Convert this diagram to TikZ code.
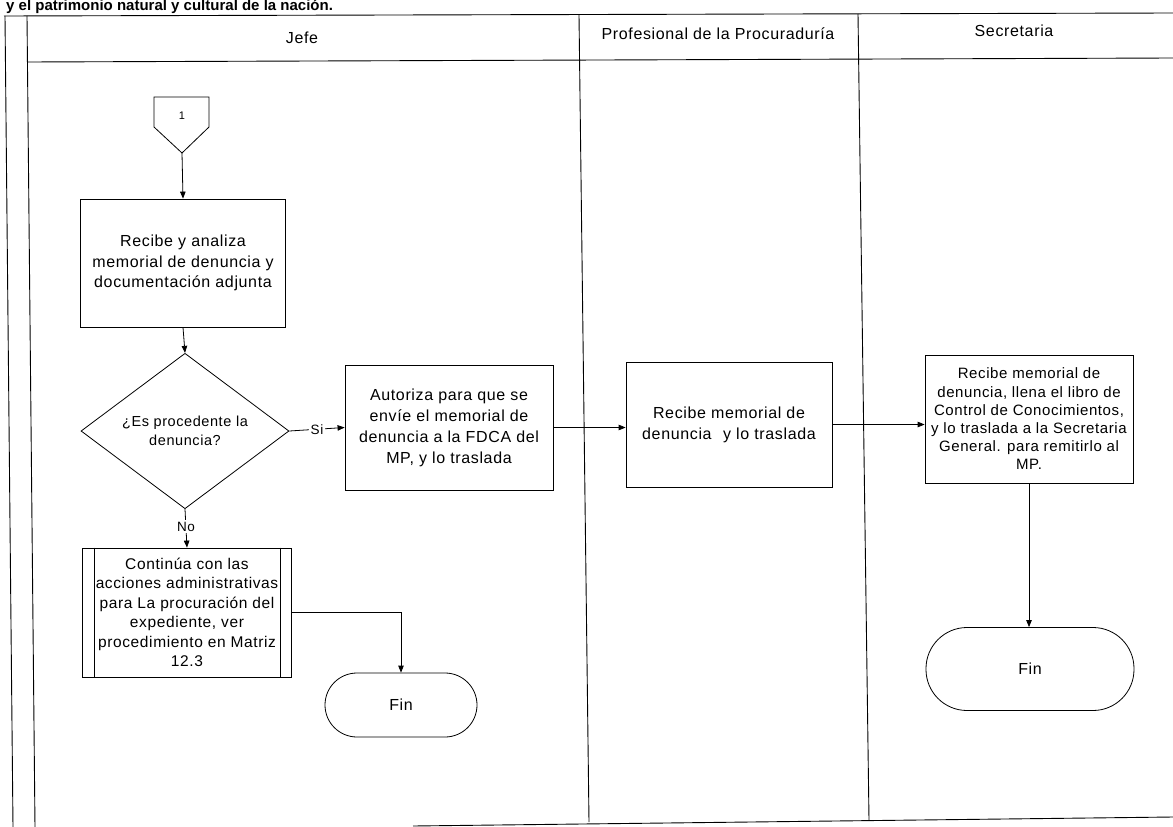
\documentclass[tikz,border=0pt]{standalone}
\usepackage{fontspec}
\setmainfont{Liberation Sans}[LetterSpace=4]
\newfontfamily\plainfont{Liberation Sans}
\usetikzlibrary{arrows.meta,shapes.geometric}

\newcommand{\fsz}[2]{\fontsize{#1}{#2}\selectfont}

\tikzset{
  rule/.style={line width=0.9pt},
  box/.style={draw, line width=0.8pt, align=center, inner sep=2pt},
  decision/.style={draw, diamond, line width=0.8pt, align=center, inner sep=0pt},
  terminal/.style={draw, rectangle, line width=0.8pt, align=center},
  flow/.style={line width=0.8pt, -{Triangle[length=7pt,width=5.5pt]}},
  lbl/.style={fill=white, inner sep=1.5pt, font=\fsz{13.5}{15}},
  lanehead/.style={font=\fsz{16}{19}},
}

\begin{document}
\begin{tikzpicture}[x=1pt,y=-1pt]
\useasboundingbox (0,0) rectangle (1173,827);

% heading line of the page, cut by the page edge
\node[anchor=base west, inner sep=0pt, font=\plainfont\bfseries\fsz{15}{17}] (title) at (6,10.5)
  {y el patrimonio natural y cultural de la nación.};

% swimlane table
\draw[rule] (4,16) -- (1173,13);
\draw[rule] (5,16) -- (13,827);
\draw[rule] (27,16) -- (35,827);
\draw[rule] (27,62) -- (1173,58);
\draw[rule] (579,15) -- (589,822);
\draw[rule] (858,14) -- (869,820);
\draw[rule] (413,826) -- (1173,817);

\node[lanehead] (hJefe) at (302,38) {Jefe};
\node[lanehead] (hProf) at (718,34) {Profesional de la Procuraduría};
\node[lanehead] (hSec) at (1014,31) {Secretaria};

% off-page connector
\node[font=\fsz{11}{13}] (c1) at (182,116) {1};
\draw[line width=0.8pt] (154,97) -- (209,97) -- (209,127) -- (182,153) -- (154,127) -- cycle;
\coordinate (c1tip) at (182,153);

% Jefe lane
\node[box, minimum width=205pt, minimum height=128pt, font=\fsz{16}{20.5}] (b1) at (183,263)
  {Recibe y analiza\\memorial de denuncia y\\documentación adjunta};
\node[decision, minimum width=208pt, minimum height=125pt, font=\fsz{14.5}{19}] (d1) at (185,431)
  {¿Es procedente la\\denuncia?};
\node[box, minimum width=208pt, minimum height=125pt, font=\fsz{16}{21}] (b2) at (449,427.5)
  {Autoriza para que se\\envíe el memorial de\\denuncia a la FDCA del\\MP, y lo traslada};
\node[box, minimum width=209pt, minimum height=129pt, font=\fsz{15.5}{19.5}] (b5) at (187,612.5)
  {Continúa con las\\acciones administrativas\\para La procuración del\\expediente, ver\\procedimiento en Matriz\\12.3};
\draw[line width=0.8pt] ([xshift=12pt]b5.north west) -- ([xshift=12pt]b5.south west);
\draw[line width=0.8pt] ([xshift=-12pt]b5.north east) -- ([xshift=-12pt]b5.south east);
\node[terminal, minimum width=152pt, minimum height=64pt, rounded corners=32pt, font=\fsz{16}{19}] (f1) at (401,705) {Fin};

% Profesional lane
\node[box, minimum width=206pt, minimum height=125pt, font=\fsz{16}{21}] (b3) at (729,424.5)
  {Recibe memorial de\\denuncia\hspace{0.4em} y lo traslada};

% Secretaria lane
\node[box, minimum width=208pt, minimum height=128pt, inner sep=1pt, font=\fsz{15}{18.2}] (b4) at (1029,419)
  {Recibe memorial de\\denuncia, llena el libro de\\Control de Conocimientos,\\y lo traslada a la Secretaria\\General. para remitirlo al\\MP.};
\node[terminal, minimum width=208pt, minimum height=83pt, rounded corners=41pt, font=\fsz{16}{19}] (f2) at (1030,669) {Fin};

% connectors
\draw[flow] (c1tip) -- (b1.north);
\draw[flow] (b1.south) -- (d1.north);
\draw[flow] (d1.east) -- node[lbl] {Si} (b2.west);
\draw[flow] (d1.south) -- node[lbl, pos=0.45] {No} (b5.north);
\draw[flow] (b5.east) -| (f1.north);
\draw[flow] (b2.east) -- (b2.east -| b3.west);
\draw[flow] (b3.east) -- (b3.east -| b4.west);
\draw[flow] (b4.south) -- (b4.south |- f2.north);
\end{tikzpicture}
\end{document}
